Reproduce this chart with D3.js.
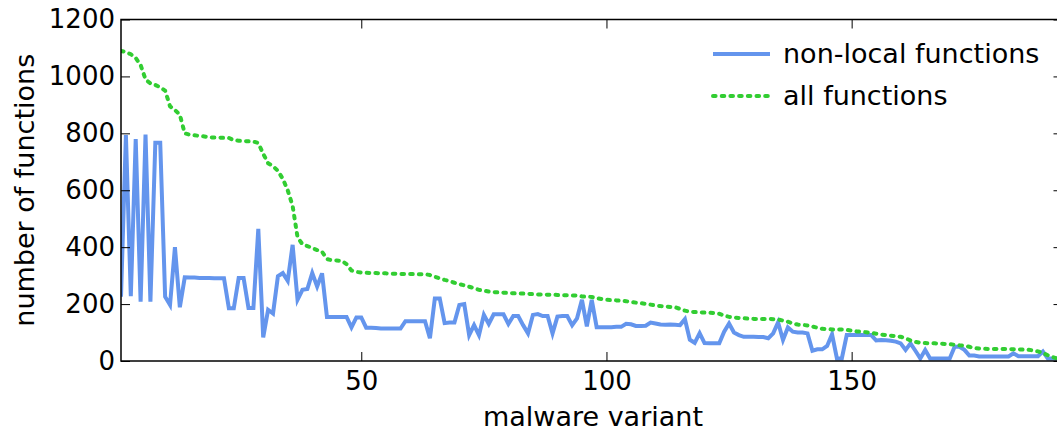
<!DOCTYPE html>
<html><head><meta charset="utf-8">
<script src="https://cdn.jsdelivr.net/npm/d3@7"></script>
<style>body{margin:0;background:#fff} text{font-family:"DejaVu Sans",sans-serif}</style>
</head><body><svg id="c" width="1057" height="435"></svg>
<script>
const nonLocal = [226,794,228,780,208,796,208,767,767,226,197,400,189,294,293,293,292,292,292,291,
291,291,185,185,292,292,186,186,464,83,180,167,298,309,282,408,215,250,253,309,
262,308,155,155,155,155,155,118,153,153,117,117,116,114,114,114,114,114,140,140,
140,140,140,80,220,220,133,135,135,197,200,91,126,91,162,130,164,164,164,130,
158,158,126,97,162,165,158,158,97,156,158,158,126,150,215,122,215,119,119,119,
119,120,120,131,129,123,123,124,135,132,128,127,128,127,126,147,75,64,98,63,
62,62,62,103,132,100,91,85,85,85,84,84,80,97,136,74,118,103,100,100,
97,36,41,41,53,94,9,9,91,91,91,91,91,91,72,74,73,71,68,62,
39,62,36,9,39,9,9,9,9,9,50,50,39,19,19,16,16,16,16,16,
16,16,27,17,17,17,17,17,33,9,9,9,9];
const allFunctions = [1090,1085,1078,1065,1040,990,975,970,962,950,895,882,865,800,795,793,791,789,786,785,
785,784,784,776,774,773,772,771,766,728,695,685,668,640,600,545,435,410,404,397,
390,384,358,354,353,352,340,318,313,311,310,309,309,308,308,307,307,306,306,306,
305,305,305,302,296,290,285,281,275,270,266,261,256,250,247,244,242,241,240,239,
238,237,237,236,235,234,234,233,233,232,231,231,230,230,227,226,225,221,218,215,
214,213,212,210,208,205,203,201,198,195,193,192,190,189,183,177,173,172,171,170,
170,168,166,160,155,153,151,150,149,148,148,148,148,147,146,142,138,132,128,127,
125,121,117,113,112,111,111,111,109,107,104,103,101,99,96,93,91,89,87,85,
80,72,67,64,63,62,62,61,60,59,57,55,54,50,45,44,43,42,42,42,
42,42,41,41,40,40,37,34,28,20,14,8,5];
const variants = d3.range(1, nonLocal.length + 1);
const xTicks = [50, 100, 150, 200];
const yTicks = [0, 200, 400, 600, 800, 1000, 1200];
const seriesNames = ["non-local functions", "all functions"];

const L = 121, R = 1062.5, T = 19.5, B = 361;
const FS = 26, LFS = 27;
const svg = d3.select("#c");
const x = d3.scaleLinear().domain([1, variants.length]).range([L, R]);
const y = d3.scaleLinear().domain([0, 1200]).range([B, T]);

svg.append("clipPath").attr("id", "clip").append("rect")
  .attr("x", L).attr("y", T).attr("width", R - L).attr("height", B - T);

const line = d3.line().x((d, i) => x(variants[i])).y(d => y(d));
const g = svg.append("g").attr("clip-path", "url(#clip)");
g.append("path").datum(nonLocal).attr("d", line)
  .attr("fill", "none").attr("stroke", "#6495ED").attr("stroke-width", 4)
  .attr("stroke-linejoin", "miter");
g.append("path").datum(allFunctions).attr("d", line)
  .attr("fill", "none").attr("stroke", "#32CD32").attr("stroke-width", 4)
  .attr("stroke-dasharray", "2.6,6.1").attr("stroke-linecap", "round");

function styleAxis(sel) {
  sel.select(".domain").remove();
  sel.selectAll(".tick line").attr("stroke", "#000").attr("stroke-width", 1);
  sel.selectAll("text").attr("font-size", FS).attr("font-family", "DejaVu Sans").attr("fill", "#000");
}
const xv = xTicks.filter(t => t >= 1 && t <= variants.length);
svg.append("g").attr("transform", `translate(0,${B})`)
  .call(d3.axisBottom(x).tickValues(xv).tickSize(-9).tickPadding(11).tickFormat(d3.format("d")))
  .call(styleAxis);
svg.append("g").attr("transform", `translate(0,${T})`)
  .call(d3.axisTop(x).tickValues(xv).tickSize(-9).tickFormat(""))
  .call(styleAxis);
svg.append("g").attr("transform", `translate(${L},0)`)
  .call(d3.axisLeft(y).tickValues(yTicks).tickSize(-9).tickPadding(6).tickFormat(d3.format("d")))
  .call(styleAxis);
svg.append("g").attr("transform", `translate(${R},0)`)
  .call(d3.axisRight(y).tickValues(yTicks).tickSize(-9).tickFormat(""))
  .call(styleAxis);

svg.append("rect").attr("x", L).attr("y", T).attr("width", R - L).attr("height", B - T)
  .attr("fill", "none").attr("stroke", "#000").attr("stroke-width", 1.5);

svg.append("text").attr("x", 593).attr("y", 426).attr("text-anchor", "middle")
  .attr("font-size", LFS).text("malware variant");
svg.append("text").attr("transform", `translate(34,${(T + B) / 2}) rotate(-90)`)
  .attr("text-anchor", "middle").attr("font-size", LFS).text("number of functions");

const leg = svg.append("g");
const legY = [54, 96];
leg.append("line").attr("x1", 713).attr("x2", 770).attr("y1", legY[0]).attr("y2", legY[0])
  .attr("stroke", "#6495ED").attr("stroke-width", 4);
leg.append("line").attr("x1", 713).attr("x2", 770).attr("y1", legY[1]).attr("y2", legY[1])
  .attr("stroke", "#32CD32").attr("stroke-width", 4)
  .attr("stroke-dasharray", "2.6,6.1").attr("stroke-linecap", "round");
seriesNames.forEach((n, i) => {
  leg.append("text").attr("x", 783).attr("y", legY[i]).attr("dy", "0.35em")
    .attr("font-size", LFS).text(n);
});
</script></body></html>
